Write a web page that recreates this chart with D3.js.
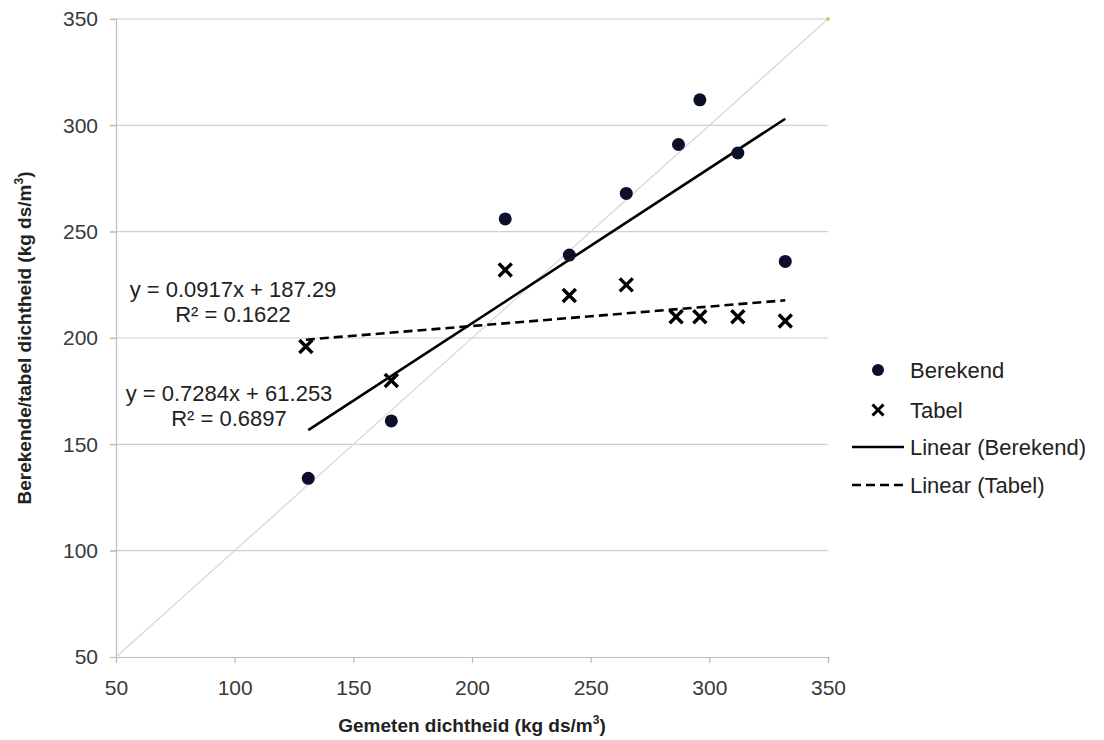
<!DOCTYPE html>
<html>
<head>
<meta charset="utf-8">
<script src="https://cdn.jsdelivr.net/npm/d3@7"></script>
<style>
  body { margin: 0; background: #fff; }
  svg { font-family: "Liberation Sans", Arial, sans-serif; }
</style>
</head>
<body>
<div id="chart"></div>
<script>
// Measured points (x = gemeten, y = berekend / tabel)
var berekendX = [131, 166, 214, 241, 265, 287, 296, 312, 332];
var berekendY = [134, 161, 256, 239, 268, 291, 312, 287, 236];
var tabelX = [130, 166, 214, 241, 265, 286, 296, 312, 332];
var tabelY = [196, 180, 232, 220, 225, 210, 210, 210, 208];

// Trendline coefficients as printed on the chart
var fitBerekend = {slope: 0.7284, intercept: 61.253, r2: "0.6897"};
var fitTabel = {slope: 0.0917, intercept: 187.29, r2: "0.1622"};

var ticks = [50, 100, 150, 200, 250, 300, 350];
var legendLabels = ["Berekend", "Tabel", "Linear (Berekend)", "Linear (Tabel)"];

var width = 1104, height = 740;
var x = d3.scaleLinear().domain([50, 350]).range([116, 828]);
var y = d3.scaleLinear().domain([50, 350]).range([657, 19]);

var svg = d3.select("#chart").append("svg")
	.attr("width", width)
	.attr("height", height);

// horizontal gridlines
svg.append("g").selectAll("line")
	.data(ticks.slice(1))
	.enter().append("line")
	.attr("x1", x(50) - 6).attr("x2", x(350))
	.attr("y1", function(d){ return y(d); })
	.attr("y2", function(d){ return y(d); })
	.attr("stroke", "#d0d0d0")
	.attr("stroke-width", 1.2);

// y axis
var yAxis = svg.append("g")
	.attr("transform", "translate(" + x(50) + ",0)")
	.call(d3.axisLeft(y).tickValues(ticks).tickSize(6).tickPadding(12));
// x axis
var xAxis = svg.append("g")
	.attr("transform", "translate(0," + y(50) + ")")
	.call(d3.axisBottom(x).tickValues(ticks).tickSize(6).tickPadding(17));

[yAxis, xAxis].forEach(function(ax){
	ax.select(".domain").attr("stroke", "#bdbdbd").attr("stroke-width", 1.2);
	ax.selectAll(".tick line").attr("stroke", "#bdbdbd").attr("stroke-width", 1.2);
	ax.selectAll(".tick text")
		.attr("fill", "#3a3a3a")
		.style("font-size", "21px")
		.style("font-family", "'Liberation Sans', Arial, sans-serif");
});

// 1:1 line
svg.append("line")
	.attr("x1", x(50)).attr("y1", y(50))
	.attr("x2", x(350)).attr("y2", y(350))
	.attr("stroke", "#d6d6d6")
	.attr("stroke-width", 1.2);
svg.append("circle")
	.attr("cx", x(350)).attr("cy", y(350)).attr("r", 2)
	.attr("fill", "#c8cc88");

// trendlines
function trend(fit, xs, dash) {
	var x0 = d3.min(xs), x1 = d3.max(xs);
	svg.append("line")
		.attr("x1", x(x0)).attr("y1", y(fit.slope * x0 + fit.intercept))
		.attr("x2", x(x1)).attr("y2", y(fit.slope * x1 + fit.intercept))
		.attr("stroke", "#000")
		.attr("stroke-width", 2.6)
		.attr("stroke-dasharray", dash);
}
trend(fitBerekend, berekendX, null);
trend(fitTabel, tabelX, "9,5");

// points
svg.append("g").selectAll("circle")
	.data(d3.zip(berekendX, berekendY))
	.enter().append("circle")
	.attr("cx", function(d){ return x(d[0]); })
	.attr("cy", function(d){ return y(d[1]); })
	.attr("r", 6.5)
	.attr("fill", "#0b0f2a");

var crossPath = "M-6.5,-6.5L6.5,6.5M-6.5,6.5L6.5,-6.5";
svg.append("g").selectAll("path")
	.data(d3.zip(tabelX, tabelY))
	.enter().append("path")
	.attr("transform", function(d){ return "translate(" + x(d[0]) + "," + y(d[1]) + ")"; })
	.attr("d", crossPath)
	.attr("stroke", "#000")
	.attr("stroke-width", 3.4);

// equations
function eqText(fit, cx, base) {
	svg.append("text")
		.attr("x", cx).attr("y", base)
		.attr("text-anchor", "middle")
		.style("font-size", "22px").attr("fill", "#222")
		.text("y = " + fit.slope + "x + " + fit.intercept);
	svg.append("text")
		.attr("x", cx).attr("y", base + 25)
		.attr("text-anchor", "middle")
		.style("font-size", "22px").attr("fill", "#222")
		.text("R² = " + fit.r2);
}
eqText(fitTabel, 233, 297);
eqText(fitBerekend, 229, 401);

// axis titles
svg.append("text")
	.attr("x", 472).attr("y", 732)
	.attr("text-anchor", "middle")
	.style("font-size", "19px").style("font-weight", "bold")
	.attr("fill", "#222")
	.html("Gemeten dichtheid (kg ds/m<tspan dy='-8' font-size='12px'>3</tspan><tspan dy='8'>)</tspan>");
svg.append("text")
	.attr("transform", "translate(31,338) rotate(-90)")
	.attr("text-anchor", "middle")
	.style("font-size", "19px").style("font-weight", "bold")
	.attr("fill", "#222")
	.html("Berekende/tabel dichtheid (kg ds/m<tspan dy='-8' font-size='12px'>3</tspan><tspan dy='8'>)</tspan>");

// legend
var leg = svg.append("g");
var rowY = [370, 410, 447, 485];
leg.append("circle").attr("cx", 878).attr("cy", rowY[0]).attr("r", 6).attr("fill", "#0b0f2a");
leg.append("path").attr("transform", "translate(878," + rowY[1] + ")")
	.attr("d", "M-5.5,-5.5L5.5,5.5M-5.5,5.5L5.5,-5.5").attr("stroke", "#000").attr("stroke-width", 3);
leg.append("line").attr("x1", 852).attr("x2", 904).attr("y1", rowY[2]).attr("y2", rowY[2])
	.attr("stroke", "#000").attr("stroke-width", 2.6);
leg.append("line").attr("x1", 852).attr("x2", 906).attr("y1", rowY[3]).attr("y2", rowY[3])
	.attr("stroke", "#000").attr("stroke-width", 2.6).attr("stroke-dasharray", "9,5");
leg.selectAll("text")
	.data(legendLabels)
	.enter().append("text")
	.attr("x", 910)
	.attr("y", function(d, i){ return rowY[i] + 8; })
	.style("font-size", "22px").attr("fill", "#222")
	.text(function(d){ return d; });
</script>
</body>
</html>
